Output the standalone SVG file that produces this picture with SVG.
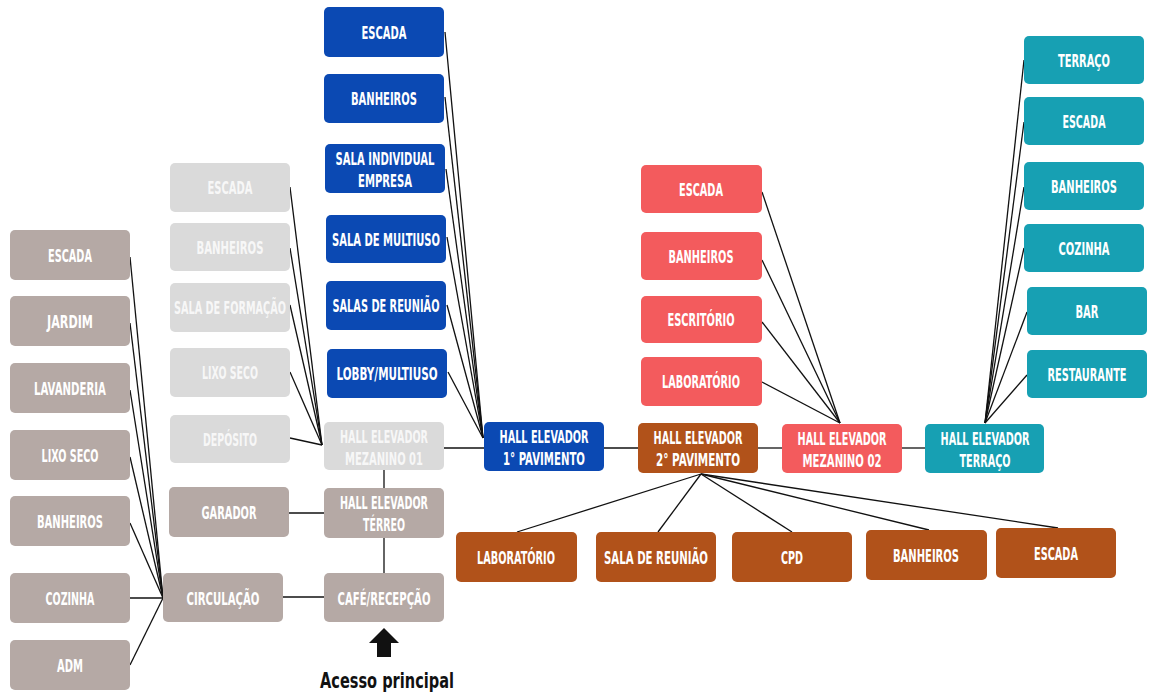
<svg xmlns="http://www.w3.org/2000/svg" width="1150" height="695" viewBox="0 0 1150 695">
<style>
.n rect{rx:5px;ry:5px}
.taupe rect{fill:#b5a9a5}
.gray rect{fill:#dadada}
.blue rect{fill:#0b49b3}
.salmon rect{fill:#f35b5d}
.brown rect{fill:#b1521a}
.teal rect{fill:#17a0b3}
text{font-family:"DejaVu Sans Condensed","DejaVu Sans",sans-serif;font-weight:bold;font-size:18px;fill:#ffffff;text-anchor:middle}
.gray text{fill:#f7f7f7}
.conn line{stroke:#111;stroke-width:1.3}
.acc{fill:#111;font-size:22px}
</style>
<rect width="1150" height="695" fill="#ffffff"/>
<g class="conn">
<line x1="130" y1="257" x2="163" y2="598"/>
<line x1="130" y1="323" x2="163" y2="598"/>
<line x1="130" y1="390" x2="163" y2="598"/>
<line x1="130" y1="457" x2="163" y2="598"/>
<line x1="130" y1="523" x2="163" y2="598"/>
<line x1="130" y1="598" x2="163" y2="598"/>
<line x1="130" y1="665" x2="163" y2="598"/>
<line x1="283" y1="597" x2="324" y2="597"/>
<line x1="289" y1="513" x2="324" y2="513"/>
<line x1="384" y1="470" x2="384" y2="488"/>
<line x1="384" y1="538" x2="384" y2="573"/>
<line x1="290" y1="187" x2="322" y2="445"/>
<line x1="290" y1="248" x2="322" y2="445"/>
<line x1="290" y1="305" x2="322" y2="445"/>
<line x1="290" y1="372" x2="322" y2="445"/>
<line x1="290" y1="438" x2="322" y2="445"/>
<line x1="444" y1="448" x2="484" y2="448"/>
<line x1="445" y1="32" x2="483" y2="438"/>
<line x1="445" y1="97" x2="483" y2="438"/>
<line x1="446" y1="169" x2="483" y2="438"/>
<line x1="447" y1="237" x2="483" y2="438"/>
<line x1="447" y1="305" x2="483" y2="438"/>
<line x1="448" y1="372" x2="483" y2="438"/>
<line x1="604" y1="448" x2="638" y2="448"/>
<line x1="758" y1="448" x2="782" y2="448"/>
<line x1="762" y1="192" x2="840" y2="423"/>
<line x1="762" y1="260" x2="840" y2="423"/>
<line x1="762" y1="322" x2="840" y2="423"/>
<line x1="762" y1="382" x2="840" y2="423"/>
<line x1="902" y1="448" x2="925" y2="448"/>
<line x1="1024" y1="60" x2="985" y2="423"/>
<line x1="1024" y1="122" x2="985" y2="423"/>
<line x1="1024" y1="187" x2="985" y2="423"/>
<line x1="1024" y1="248" x2="985" y2="423"/>
<line x1="1027" y1="312" x2="985" y2="423"/>
<line x1="1027" y1="375" x2="985" y2="423"/>
<line x1="701" y1="474" x2="517" y2="532"/>
<line x1="701" y1="474" x2="658" y2="532"/>
<line x1="701" y1="474" x2="792" y2="532"/>
<line x1="701" y1="474" x2="929" y2="530"/>
<line x1="701" y1="474" x2="1058" y2="528"/>
</g>
<g class="n taupe">
<g id="t_escada"><rect x="10" y="230" width="120" height="50"/><text x="70" y="262" textLength="44" lengthAdjust="spacingAndGlyphs">ESCADA</text></g>
<g id="t_jardim"><rect x="10" y="296" width="120" height="50"/><text x="70" y="328" textLength="46" lengthAdjust="spacingAndGlyphs">JARDIM</text></g>
<g id="t_lavanderia"><rect x="10" y="363" width="120" height="50"/><text x="70" y="395" textLength="72" lengthAdjust="spacingAndGlyphs">LAVANDERIA</text></g>
<g id="t_lixo"><rect x="10" y="430" width="120" height="50"/><text x="70" y="462" textLength="57" lengthAdjust="spacingAndGlyphs">LIXO SECO</text></g>
<g id="t_banheiros"><rect x="10" y="496" width="120" height="50"/><text x="70" y="528" textLength="66" lengthAdjust="spacingAndGlyphs">BANHEIROS</text></g>
<g id="t_cozinha"><rect x="10" y="573" width="120" height="50"/><text x="70" y="605" textLength="49" lengthAdjust="spacingAndGlyphs">COZINHA</text></g>
<g id="t_adm"><rect x="10" y="640" width="120" height="50"/><text x="70" y="672" textLength="26" lengthAdjust="spacingAndGlyphs">ADM</text></g>
<g id="circulacao"><rect x="163" y="573" width="120" height="49"/><text x="223" y="605" textLength="73" lengthAdjust="spacingAndGlyphs">CIRCULAÇÃO</text></g>
<g id="garador"><rect x="169" y="487" width="120" height="50"/><text x="229" y="519" textLength="55" lengthAdjust="spacingAndGlyphs">GARADOR</text></g>
<g id="terreo"><rect x="324" y="488" width="120" height="50"/><text x="384" y="509" textLength="88" lengthAdjust="spacingAndGlyphs">HALL ELEVADOR</text><text x="384" y="531" textLength="42" lengthAdjust="spacingAndGlyphs">TÉRREO</text></g>
<g id="cafe"><rect x="324" y="573" width="120" height="49"/><text x="384" y="605" textLength="93" lengthAdjust="spacingAndGlyphs">CAFÉ/RECEPÇÃO</text></g>
</g>
<g class="n gray">
<g id="g_escada"><rect x="170" y="163" width="120" height="49"/><text x="230" y="194" textLength="45" lengthAdjust="spacingAndGlyphs">ESCADA</text></g>
<g id="g_banheiros"><rect x="170" y="223" width="120" height="48"/><text x="230" y="254" textLength="67" lengthAdjust="spacingAndGlyphs">BANHEIROS</text></g>
<g id="g_formacao"><rect x="170" y="283" width="120" height="49"/><text x="230" y="314" textLength="112" lengthAdjust="spacingAndGlyphs">SALA DE FORMAÇÃO</text></g>
<g id="g_lixo"><rect x="170" y="348" width="120" height="49"/><text x="230" y="379" textLength="56" lengthAdjust="spacingAndGlyphs">LIXO SECO</text></g>
<g id="g_deposito"><rect x="170" y="415" width="120" height="48"/><text x="230" y="446" textLength="54" lengthAdjust="spacingAndGlyphs">DEPÓSITO</text></g>
<g id="mez01"><rect x="324" y="422" width="120" height="48"/><text x="384" y="443" textLength="88" lengthAdjust="spacingAndGlyphs">HALL ELEVADOR</text><text x="384" y="465" textLength="78" lengthAdjust="spacingAndGlyphs">MEZANINO 01</text></g>
</g>
<g class="n blue">
<g id="b_escada"><rect x="324" y="7" width="120" height="50"/><text x="384" y="39" textLength="45" lengthAdjust="spacingAndGlyphs">ESCADA</text></g>
<g id="b_banheiros"><rect x="324" y="74" width="120" height="49"/><text x="384" y="105" textLength="66" lengthAdjust="spacingAndGlyphs">BANHEIROS</text></g>
<g id="b_sala"><rect x="325" y="144" width="120" height="49"/><text x="385" y="165" textLength="99" lengthAdjust="spacingAndGlyphs">SALA INDIVIDUAL</text><text x="385" y="187" textLength="54" lengthAdjust="spacingAndGlyphs">EMPRESA</text></g>
<g id="b_multiuso"><rect x="326" y="215" width="120" height="48"/><text x="386" y="246" textLength="108" lengthAdjust="spacingAndGlyphs">SALA DE MULTIUSO</text></g>
<g id="b_reuniao"><rect x="326" y="281" width="120" height="49"/><text x="386" y="312" textLength="107" lengthAdjust="spacingAndGlyphs">SALAS DE REUNIÃO</text></g>
<g id="b_lobby"><rect x="327" y="349" width="120" height="49"/><text x="387" y="380" textLength="101" lengthAdjust="spacingAndGlyphs">LOBBY/MULTIUSO</text></g>
<g id="pav1"><rect x="484" y="422" width="120" height="49"/><text x="544" y="443" textLength="89" lengthAdjust="spacingAndGlyphs">HALL ELEVADOR</text><text x="544" y="465" textLength="82" lengthAdjust="spacingAndGlyphs">1° PAVIMENTO</text></g>
</g>
<g class="n salmon">
<g id="s_escada"><rect x="641" y="165" width="121" height="48"/><text x="701" y="196" textLength="44" lengthAdjust="spacingAndGlyphs">ESCADA</text></g>
<g id="s_banheiros"><rect x="641" y="232" width="121" height="48"/><text x="701" y="263" textLength="65" lengthAdjust="spacingAndGlyphs">BANHEIROS</text></g>
<g id="s_escritorio"><rect x="641" y="296" width="121" height="47"/><text x="701" y="326" textLength="67" lengthAdjust="spacingAndGlyphs">ESCRITÓRIO</text></g>
<g id="s_lab"><rect x="641" y="357" width="121" height="49"/><text x="701" y="388" textLength="78" lengthAdjust="spacingAndGlyphs">LABORATÓRIO</text></g>
<g id="mez02"><rect x="782" y="424" width="120" height="49"/><text x="842" y="445" textLength="89" lengthAdjust="spacingAndGlyphs">HALL ELEVADOR</text><text x="842" y="467" textLength="79" lengthAdjust="spacingAndGlyphs">MEZANINO 02</text></g>
</g>
<g class="n brown">
<g id="pav2"><rect x="638" y="423" width="120" height="50"/><text x="698" y="444" textLength="89" lengthAdjust="spacingAndGlyphs">HALL ELEVADOR</text><text x="698" y="466" textLength="84" lengthAdjust="spacingAndGlyphs">2° PAVIMENTO</text></g>
<g id="o_lab"><rect x="456" y="532" width="121" height="50"/><text x="516" y="564" textLength="78" lengthAdjust="spacingAndGlyphs">LABORATÓRIO</text></g>
<g id="o_reuniao"><rect x="596" y="532" width="120" height="50"/><text x="656" y="564" textLength="104" lengthAdjust="spacingAndGlyphs">SALA DE REUNIÃO</text></g>
<g id="o_cpd"><rect x="732" y="532" width="120" height="50"/><text x="792" y="564" textLength="22" lengthAdjust="spacingAndGlyphs">CPD</text></g>
<g id="o_banheiros"><rect x="866" y="530" width="121" height="50"/><text x="926" y="562" textLength="66" lengthAdjust="spacingAndGlyphs">BANHEIROS</text></g>
<g id="o_escada"><rect x="996" y="528" width="120" height="50"/><text x="1056" y="560" textLength="44" lengthAdjust="spacingAndGlyphs">ESCADA</text></g>
</g>
<g class="n teal">
<g id="c_terraco"><rect x="1024" y="36" width="120" height="48"/><text x="1084" y="67" textLength="52" lengthAdjust="spacingAndGlyphs">TERRAÇO</text></g>
<g id="c_escada"><rect x="1024" y="97" width="120" height="48"/><text x="1084" y="128" textLength="43" lengthAdjust="spacingAndGlyphs">ESCADA</text></g>
<g id="c_banheiros"><rect x="1024" y="162" width="120" height="48"/><text x="1084" y="193" textLength="66" lengthAdjust="spacingAndGlyphs">BANHEIROS</text></g>
<g id="c_cozinha"><rect x="1024" y="224" width="120" height="48"/><text x="1084" y="255" textLength="51" lengthAdjust="spacingAndGlyphs">COZINHA</text></g>
<g id="c_bar"><rect x="1027" y="287" width="120" height="48"/><text x="1087" y="318" textLength="23" lengthAdjust="spacingAndGlyphs">BAR</text></g>
<g id="c_restaurante"><rect x="1027" y="350" width="120" height="48"/><text x="1087" y="381" textLength="79" lengthAdjust="spacingAndGlyphs">RESTAURANTE</text></g>
<g id="terraco"><rect x="925" y="424" width="119" height="49"/><text x="985" y="445" textLength="89" lengthAdjust="spacingAndGlyphs">HALL ELEVADOR</text><text x="985" y="467" textLength="51" lengthAdjust="spacingAndGlyphs">TERRAÇO</text></g>
</g>
<g id="acesso">
<polygon points="384,628 369,643 399,643" fill="#111"/>
<rect x="377" y="642" width="14" height="15" fill="#111"/>
<text class="acc" x="387" y="688" textLength="134" lengthAdjust="spacingAndGlyphs">Acesso principal</text>
</g>
</svg>
